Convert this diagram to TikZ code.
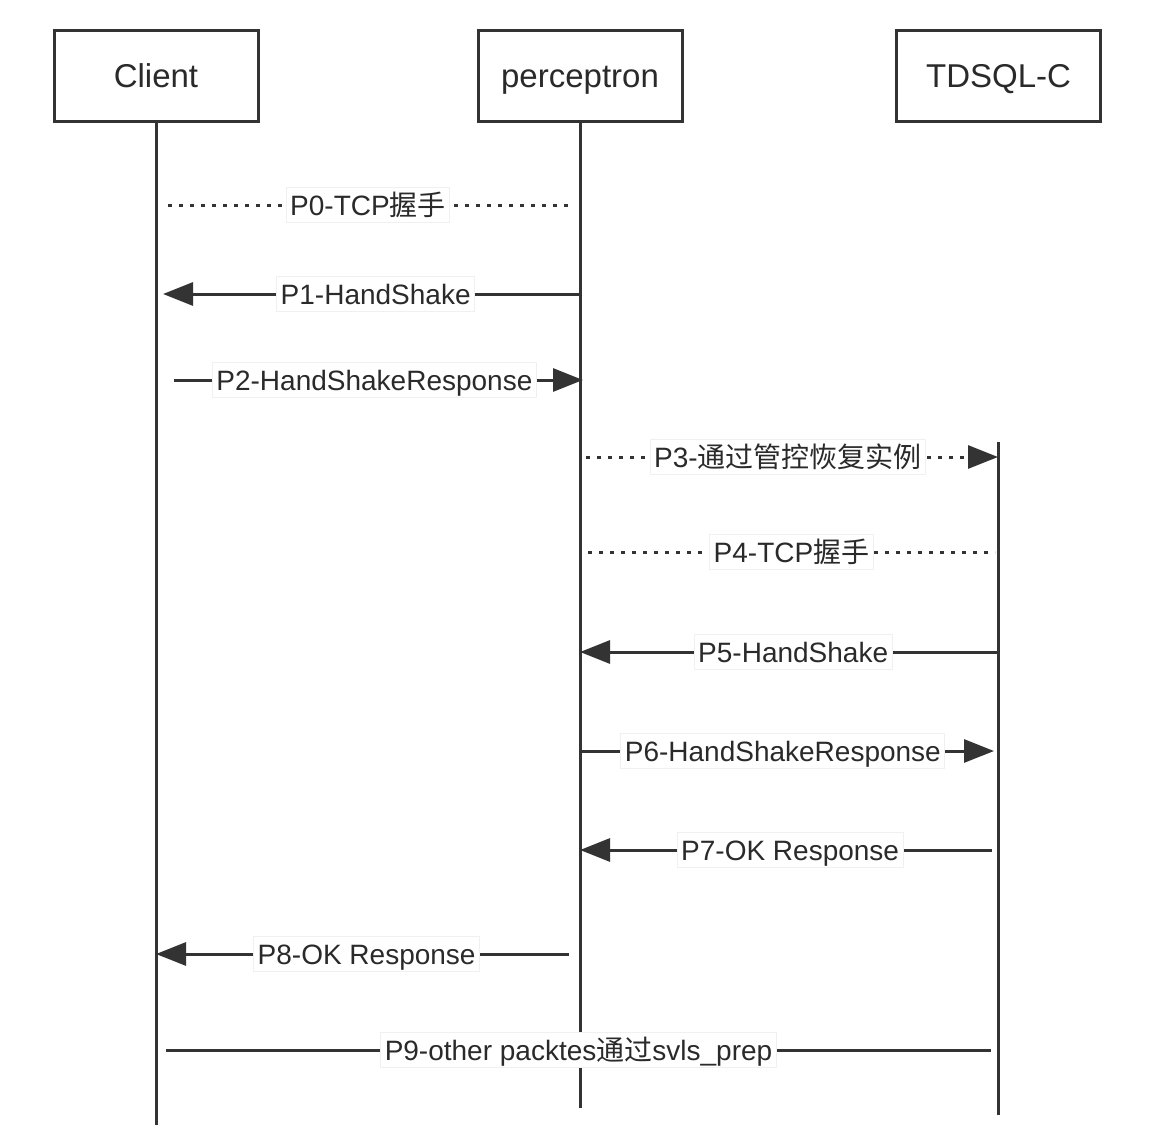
\documentclass[tikz,border=0pt]{standalone}
\usepackage{fontspec}
\setmainfont{Liberation Sans}
\newfontfamily\cjk{Noto Sans CJK SC}
\usetikzlibrary{arrows.meta}
\definecolor{fg}{HTML}{333333}
\definecolor{tx}{HTML}{2A2A2A}
\begin{document}
\begin{tikzpicture}[x=0.5pt,y=-0.5pt,
  actor/.style={draw=fg, line width=1.5pt, minimum width=102pt, minimum height=45.5pt, inner sep=0pt, text height=13pt, text depth=1.2pt, font=\fontsize{16.5}{18}\selectfont, text=tx},
  life/.style={draw=fg, line width=1.5pt},
  msg/.style={draw=fg, line width=1.5pt},
  dots/.style={draw=fg, line width=1.5pt, dash pattern=on 2pt off 3.5pt},
  head/.style={-{Triangle[length=15pt,width=11.5pt]}},
  lbl/.style={fill=white, draw=gray!12, solid, line width=0.4pt, inner sep=2pt, text height=11.75pt, text depth=1.75pt, font=\fontsize{14}{16}\selectfont, text=tx}]
\useasboundingbox[fill=white] (0,0) rectangle (1166,1140);
% actors
\node[actor] (client) at (156,75.5) {Client};
\node[actor] (perc) at (580,75.5) {perceptron};
\node[actor] (tdsql) at (998.5,75.5) {TDSQL-C};
% lifeline ends
\coordinate (cEnd) at (156,1125);
\coordinate (pEnd) at (580,1108);
\coordinate (tTop) at (998,442);
\coordinate (tEnd) at (998,1115);
\draw[life] (client.south) -- (cEnd);
\draw[life] (perc.south) -- (pEnd);
\draw[life] (tTop) -- (tEnd);
% message endpoints
\coordinate (m0a) at (168,205); \coordinate (m0b) at (572,205);
\coordinate (m1a) at (580,294); \coordinate (m1b) at (163,294);
\coordinate (m2a) at (174,380); \coordinate (m2b) at (583,380);
\coordinate (m3a) at (586,457); \coordinate (m3b) at (998,457);
\coordinate (m4a) at (588,552); \coordinate (m4b) at (995,552);
\coordinate (m5a) at (998,652); \coordinate (m5b) at (580,652);
\coordinate (m6a) at (580,751); \coordinate (m6b) at (994,751);
\coordinate (m7a) at (992,850); \coordinate (m7b) at (580,850);
\coordinate (m8a) at (569,954); \coordinate (m8b) at (156,954);
\coordinate (m9a) at (166,1050); \coordinate (m9b) at (991,1050);
% messages
\draw[dots] (m0a) -- node[lbl, pos=0.495] (l0) {P0-TCP{\cjk 握手}} (m0b);
\draw[msg, head] (m1a) -- node[lbl, pos=0.49] (l1) {P1-HandShake} (m1b);
\draw[msg, head] (m2a) -- node[lbl, pos=0.49] (l2) {P2-HandShakeResponse} (m2b);
\draw[dots, head] (m3a) -- node[lbl, pos=0.49] (l3) {P3-{\cjk 通过管控恢复实例}} (m3b);
\draw[dots] (m4a) -- node[lbl, pos=0.5] (l4) {P4-TCP{\cjk 握手}} (m4b);
\draw[msg, head] (m5a) -- node[lbl, pos=0.49] (l5) {P5-HandShake} (m5b);
\draw[msg, head] (m6a) -- node[lbl, pos=0.49] (l6) {P6-HandShakeResponse} (m6b);
\draw[msg, head] (m7a) -- node[lbl, pos=0.49] (l7) {P7-OK Response} (m7b);
\draw[msg, head] (m8a) -- node[lbl, pos=0.49] (l8) {P8-OK Response} (m8b);
\draw[msg] (m9a) -- node[lbl, pos=0.5] (l9) {P9-other packtes{\cjk 通过}svls\_prep} (m9b);
\end{tikzpicture}
\end{document}
